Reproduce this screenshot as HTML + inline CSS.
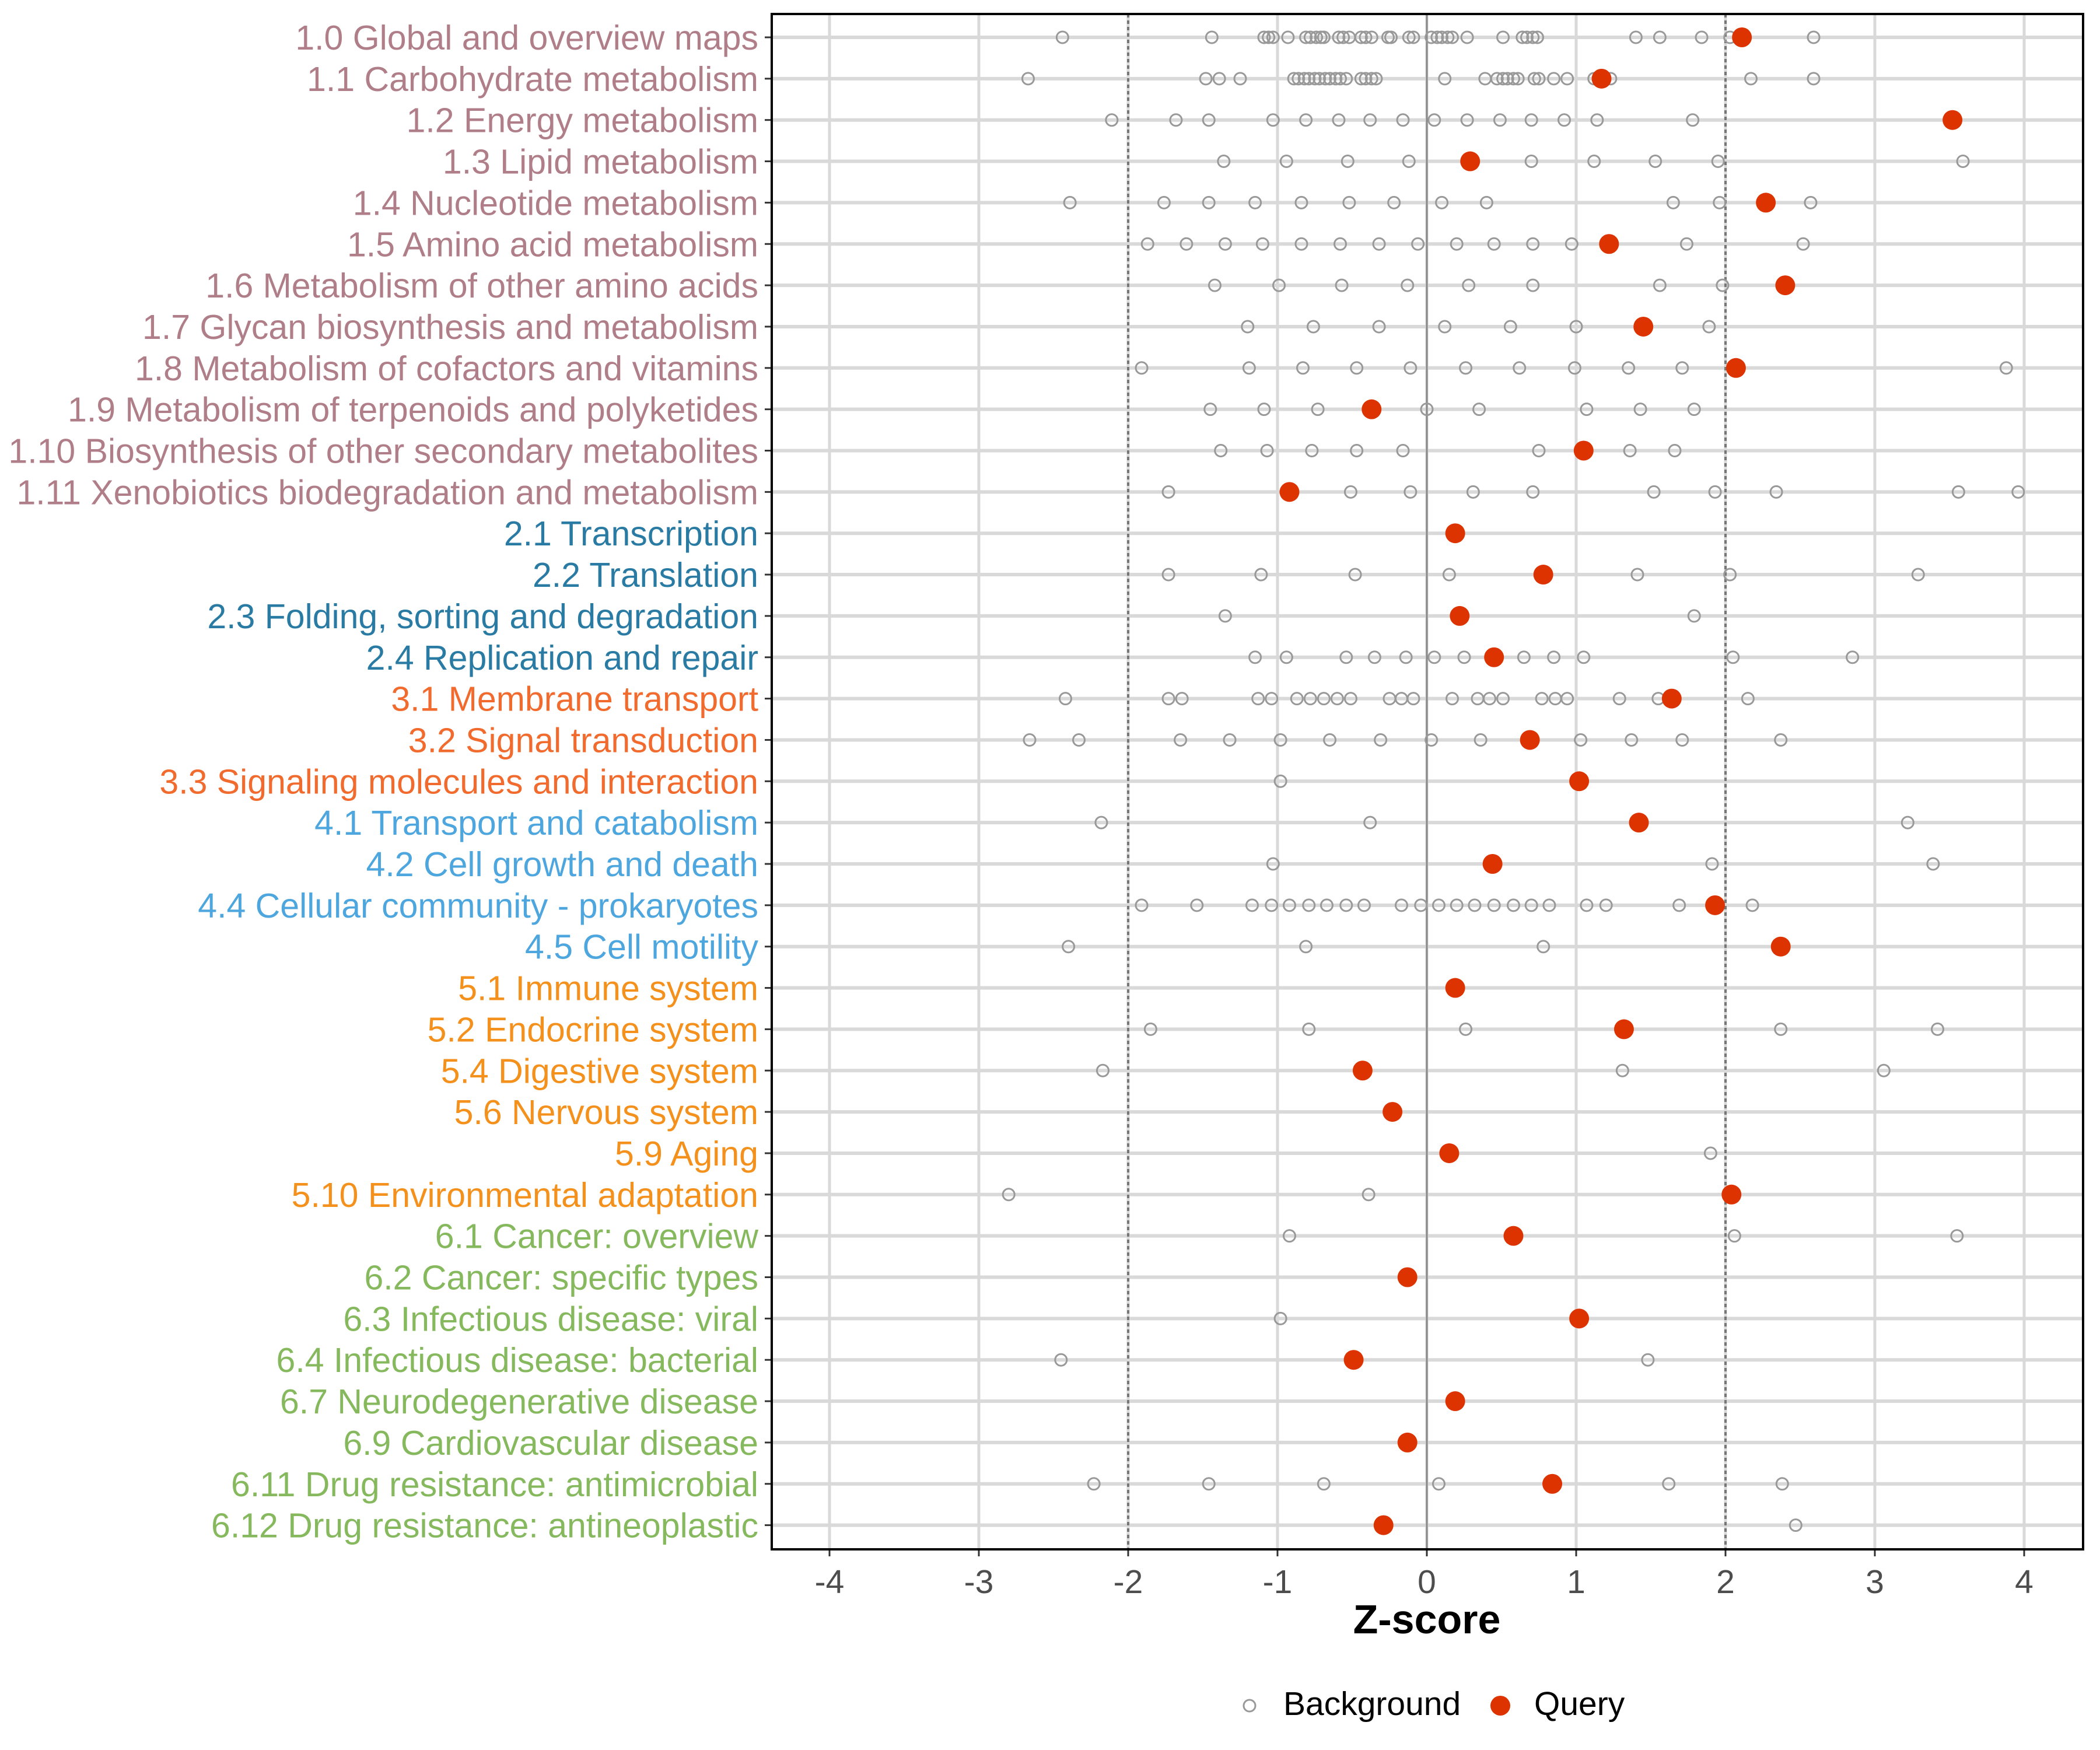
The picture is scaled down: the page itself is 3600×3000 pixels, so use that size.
<!DOCTYPE html>
<html><head><meta charset="utf-8"><style>
html,body{margin:0;padding:0;background:#fff;}
svg{display:block;font-family:"Liberation Sans",sans-serif;}
</style></head><body>
<svg id="chart" width="3600" height="3000" viewBox="0 0 3600 3000" xmlns="http://www.w3.org/2000/svg">
<rect x="0" y="0" width="3600" height="3000" fill="#fff"/>
<g id="grid"></g>
<g id="points"></g>
<g id="labels"></g>
<g id="xaxis"></g>
<text x="2446" y="2800" text-anchor="middle" font-size="70" font-weight="bold" fill="#000">Z-score</text>
<g>
<circle cx="2142" cy="2924" r="10" fill="none" stroke="#999" stroke-width="3"/>
<text x="2200" y="2940" font-size="57" fill="#000">Background</text>
<circle cx="2572" cy="2924" r="17" fill="#DD3300"/>
<text x="2630" y="2940" font-size="57" fill="#000">Query</text>
</g>
</svg>
<script>
const categories = ["1.0 Global and overview maps","1.1 Carbohydrate metabolism","1.2 Energy metabolism","1.3 Lipid metabolism","1.4 Nucleotide metabolism","1.5 Amino acid metabolism","1.6 Metabolism of other amino acids","1.7 Glycan biosynthesis and metabolism","1.8 Metabolism of cofactors and vitamins","1.9 Metabolism of terpenoids and polyketides","1.10 Biosynthesis of other secondary metabolites","1.11 Xenobiotics biodegradation and metabolism","2.1 Transcription","2.2 Translation","2.3 Folding, sorting and degradation","2.4 Replication and repair","3.1 Membrane transport","3.2 Signal transduction","3.3 Signaling molecules and interaction","4.1 Transport and catabolism","4.2 Cell growth and death","4.4 Cellular community - prokaryotes","4.5 Cell motility","5.1 Immune system","5.2 Endocrine system","5.4 Digestive system","5.6 Nervous system","5.9 Aging","5.10 Environmental adaptation","6.1 Cancer: overview","6.2 Cancer: specific types","6.3 Infectious disease: viral","6.4 Infectious disease: bacterial","6.7 Neurodegenerative disease","6.9 Cardiovascular disease","6.11 Drug resistance: antimicrobial","6.12 Drug resistance: antineoplastic"];
const groupColors = {"1":"#B07E88","2":"#2A7BA3","3":"#F26B2E","4":"#4EA6DE","5":"#F4901C","6":"#86B95E"};
const queryValues = [2.11,1.17,3.52,0.29,2.27,1.22,2.40,1.45,2.07,-0.37,1.05,-0.92,0.19,0.78,0.22,0.45,1.64,0.69,1.02,1.42,0.44,1.93,2.37,0.19,1.32,-0.43,-0.23,0.15,2.04,0.58,-0.13,1.02,-0.49,0.19,-0.13,0.84,-0.29];
const backgroundValues = [
[-2.44,-1.44,-1.09,-1.06,-1.03,-0.93,-0.81,-0.78,-0.74,-0.71,-0.69,-0.59,-0.56,-0.52,-0.44,-0.41,-0.37,-0.26,-0.24,-0.12,-0.09,0.03,0.07,0.10,0.14,0.17,0.27,0.51,0.64,0.67,0.71,0.74,1.40,1.56,1.84,2.03,2.59],
[-2.67,-1.48,-1.39,-1.25,-0.89,-0.86,-0.82,-0.79,-0.75,-0.72,-0.68,-0.65,-0.61,-0.58,-0.54,-0.44,-0.41,-0.37,-0.34,0.12,0.39,0.47,0.51,0.54,0.58,0.61,0.72,0.75,0.85,0.94,1.12,1.23,2.17,2.59],
[-2.11,-1.68,-1.46,-1.03,-0.81,-0.59,-0.38,-0.16,0.05,0.27,0.49,0.70,0.92,1.14,1.78],
[-1.36,-0.94,-0.53,-0.12,0.70,1.12,1.53,1.95,3.59],
[-2.39,-1.76,-1.46,-1.15,-0.84,-0.52,-0.22,0.10,0.40,1.65,1.96,2.57],
[-1.87,-1.61,-1.35,-1.10,-0.84,-0.58,-0.32,-0.06,0.20,0.45,0.71,0.97,1.74,2.52],
[-1.42,-0.99,-0.57,-0.13,0.28,0.71,1.56,1.98],
[-1.20,-0.76,-0.32,0.12,0.56,1.00,1.89],
[-1.91,-1.19,-0.83,-0.47,-0.11,0.26,0.62,0.99,1.35,1.71,3.88],
[-1.45,-1.09,-0.73,0.0,0.35,1.07,1.43,1.79],
[-1.38,-1.07,-0.77,-0.47,-0.16,0.75,1.36,1.66],
[-1.73,-0.51,-0.11,0.31,0.71,1.52,1.93,2.34,3.56,3.96],
[],
[-1.73,-1.11,-0.48,0.15,1.41,2.03,3.29],
[-1.35,1.79],
[-1.15,-0.94,-0.54,-0.35,-0.14,0.05,0.25,0.65,0.85,1.05,2.05,2.85],
[-2.42,-1.73,-1.64,-1.13,-1.04,-0.87,-0.78,-0.69,-0.60,-0.51,-0.25,-0.17,-0.09,0.17,0.34,0.42,0.51,0.77,0.86,0.94,1.29,1.55,2.15],
[-2.66,-2.33,-1.65,-1.32,-0.98,-0.65,-0.31,0.03,0.36,1.03,1.37,1.71,2.37],
[-0.98],
[-2.18,-0.38,3.22],
[-1.03,1.91,3.39],
[-1.91,-1.54,-1.17,-1.04,-0.92,-0.79,-0.67,-0.54,-0.42,-0.17,-0.04,0.08,0.20,0.32,0.45,0.58,0.70,0.82,1.07,1.20,1.69,2.18],
[-2.40,-0.81,0.78],
[],
[-1.85,-0.79,0.26,2.37,3.42],
[-2.17,1.31,3.06],
[],
[1.90],
[-2.80,-0.39],
[-0.92,2.06,3.55],
[],
[-0.98],
[-2.45,1.48],
[],
[],
[-2.23,-1.46,-0.69,0.08,1.62,2.38],
[2.47]
];
const xTicks = [-4,-3,-2,-1,0,1,2,3,4];
const xTickLabels = ["-4","-3","-2","-1","0","1","2","3","4"];
const thresholds = [-2,2];

const NS = "http://www.w3.org/2000/svg";
const PL = 1323, PR = 3571, PT = 24, PB = 2656;
function xScale(v){ return 2446 + 256*v; }
function yScale(i){ return 64 + i*70.85; }
function mk(tag, attrs, parent){ const e=document.createElementNS(NS,tag); for(const k in attrs) e.setAttribute(k,attrs[k]); parent.appendChild(e); return e; }

const grid = document.getElementById('grid');
const pts = document.getElementById('points');
const labels = document.getElementById('labels');
const xaxis = document.getElementById('xaxis');

xTicks.forEach((t,k)=>{
  const l = mk('line',{x1:xScale(t),x2:xScale(t),y1:PT,y2:PB,stroke:'#d9d9d9','stroke-width':5},grid);
  
  
  const tk = mk('line',{x1:xScale(t),x2:xScale(t),y1:PB,y2:PB+12,stroke:'#333','stroke-width':3},xaxis);
  
  
  const tx = mk('text',{x:xScale(t),y:PB+75,'text-anchor':'middle','font-size':57,fill:'#4d4d4d'},xaxis);
  tx.textContent = xTickLabels[k];
  
  
});
categories.forEach((c,i)=>{
  const y=yScale(i);
  const l = mk('line',{x1:PL,x2:PR,y1:y,y2:y,stroke:'#d9d9d9','stroke-width':6},grid);
  
  
});
const zl = mk('line',{x1:xScale(0),x2:xScale(0),y1:PT,y2:PB,stroke:'#888','stroke-width':3},grid);


thresholds.forEach(t=>{
  const d = mk('line',{x1:xScale(t),x2:xScale(t),y1:PT,y2:PB,stroke:'#777','stroke-width':4,'stroke-dasharray':'6,5'},grid);
  
  
});

categories.forEach((c,i)=>{
  const y=yScale(i);
  backgroundValues[i].forEach(v=>{
    const p = mk('circle',{cx:xScale(v),cy:y,r:10,fill:'none',stroke:'#999','stroke-width':3},pts);
    
    
  });
  const q = mk('circle',{cx:xScale(queryValues[i]),cy:y,r:17,fill:'#DD3300'},pts);
  
  
  const tk = mk('line',{x1:PL-12,x2:PL,y1:y,y2:y,stroke:'#333','stroke-width':3},labels);
  
  
  const t = mk('text',{x:1300,y:y+21,'text-anchor':'end','font-size':59,fill:groupColors[c.charAt(0)]},labels);
  t.textContent = c;
  
  
});
const border = mk('rect',{x:PL,y:PT,width:PR-PL,height:PB-PT,fill:'none',stroke:'#000','stroke-width':4},document.getElementById('chart'));


</script>
</body></html>
